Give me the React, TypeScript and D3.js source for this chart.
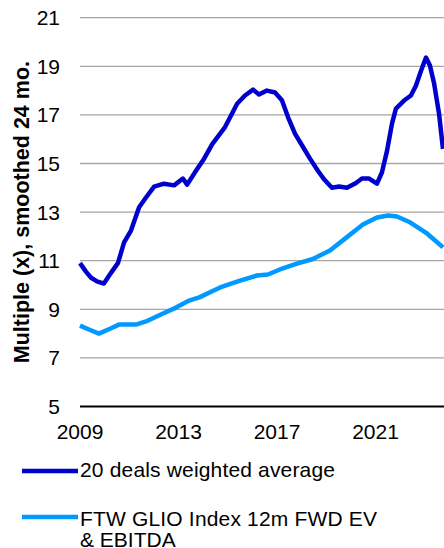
import { useRef, useEffect } from "react";
import * as d3 from "d3";

// 20 deals weighted average (decimal year, multiple)
const dealYears = [
  2009.0, 2009.24, 2009.45, 2009.69, 2009.97, 2010.26, 2010.54, 2010.79, 2011.07, 2011.4,
  2011.68, 2012.01, 2012.41, 2012.82, 2013.18, 2013.35, 2013.71, 2014.04, 2014.37, 2014.89,
  2015.17, 2015.38, 2015.7, 2016.03, 2016.27, 2016.59, 2016.92, 2017.2, 2017.45, 2017.73,
  2018.02, 2018.34, 2018.66, 2018.91, 2019.23, 2019.52, 2019.84, 2020.21, 2020.45, 2020.74,
  2021.06, 2021.26, 2021.47, 2021.67, 2021.83, 2022.16, 2022.44, 2022.64, 2022.85, 2023.05,
  2023.21, 2023.38, 2023.58, 2023.74,
];
const dealValues = [
  10.9, 10.55, 10.3, 10.15, 10.06, 10.5, 10.9, 11.75, 12.24, 13.2,
  13.6, 14.05, 14.17, 14.1, 14.38, 14.13, 14.7, 15.2, 15.8, 16.5,
  17.05, 17.46, 17.8, 18.04, 17.84, 18.0, 17.92, 17.6, 16.9, 16.23,
  15.74, 15.2, 14.7, 14.35, 14.0, 14.05, 14.0, 14.2, 14.38, 14.38,
  14.17, 14.63, 15.53, 16.64, 17.26, 17.59, 17.8, 18.2, 18.82, 19.36,
  19.03, 18.29, 17.05, 15.6,
];

// FTW GLIO Index 12m FWD EV / EBITDA
const indexYears = [
  2009.0, 2009.41, 2009.77, 2010.22, 2010.58, 2011.27, 2011.68, 2012.37, 2012.9, 2013.43,
  2013.87, 2014.28, 2014.69, 2015.5, 2016.19, 2016.63, 2017.12, 2017.81, 2018.46, 2019.15,
  2019.84, 2020.49, 2021.06, 2021.51, 2021.87, 2022.4, 2023.09, 2023.74,
];
const indexValues = [
  8.33, 8.15, 8.0, 8.2, 8.37, 8.37, 8.5, 8.83, 9.07, 9.36,
  9.5, 9.7, 9.9, 10.18, 10.39, 10.43, 10.64, 10.88, 11.07, 11.42,
  11.97, 12.49, 12.78, 12.86, 12.82, 12.58, 12.12, 11.55,
];

const yTicks = [5, 7, 9, 11, 13, 15, 17, 19, 21];
const xTicks = [2009, 2013, 2017, 2021];

const width = 444;
const height = 548;
const font = "'Liberation Sans', Arial, sans-serif";
const fontSize = 21;

const App = () => {
  const ref = useRef<SVGSVGElement | null>(null);

  useEffect(() => {
    if (!ref.current) return;
    const svg = d3.select(ref.current);
    svg.selectAll("*").remove();

    const x = d3.scaleLinear().domain([2009, 2013]).range([80, 178.5]);
    const y = d3.scaleLinear().domain([5, 21]).range([406.5, 17.7]);

    // gridlines
    svg
      .append("g")
      .selectAll("line")
      .data(yTicks.filter((t) => t !== 5))
      .join("line")
      .attr("x1", x(2009))
      .attr("x2", width)
      .attr("y1", (d) => y(d))
      .attr("y2", (d) => y(d))
      .attr("stroke", "#a6a6a6")
      .attr("stroke-width", 1.3);

    // baseline
    svg
      .append("line")
      .attr("x1", x(2009))
      .attr("x2", width)
      .attr("y1", y(5))
      .attr("y2", y(5))
      .attr("stroke", "#000")
      .attr("stroke-width", 2);

    // y tick labels
    svg
      .append("g")
      .selectAll("text")
      .data(yTicks)
      .join("text")
      .attr("x", 60)
      .attr("y", (d) => y(d))
      .attr("dy", "0.36em")
      .attr("text-anchor", "end")
      .attr("font-family", font)
      .attr("font-size", fontSize)
      .attr("fill", "#000")
      .text((d) => d);

    // x tick labels
    svg
      .append("g")
      .selectAll("text")
      .data(xTicks)
      .join("text")
      .attr("x", (d) => x(d))
      .attr("y", 439)
      .attr("text-anchor", "middle")
      .attr("font-family", font)
      .attr("font-size", fontSize)
      .attr("fill", "#000")
      .text((d) => d);

    // y axis title
    svg
      .append("text")
      .attr("transform", `translate(29,${(y(5) + y(21)) / 2}) rotate(-90)`)
      .attr("text-anchor", "middle")
      .attr("font-family", font)
      .attr("font-size", 21.5)
      .attr("font-weight", "bold")
      .attr("fill", "#000")
      .text("Multiple (x), smoothed 24 mo.");

    const line = d3
      .line<[number, number]>()
      .x((d) => x(d[0]))
      .y((d) => y(d[1]));

    const series = [
      { years: indexYears, values: indexValues, color: "#0099ff" },
      { years: dealYears, values: dealValues, color: "#0000cc" },
    ];

    svg
      .append("g")
      .selectAll("path")
      .data(series)
      .join("path")
      .attr("d", (s) => line(s.years.map((yr, i) => [yr, s.values[i]] as [number, number])))
      .attr("fill", "none")
      .attr("stroke", (s) => s.color)
      .attr("stroke-width", 4.5)
      .attr("stroke-linejoin", "round");

    // legend swatches
    const swatches = [
      { color: "#0000cc", cy: 471 },
      { color: "#0099ff", cy: 517 },
    ];
    svg
      .append("g")
      .selectAll("line")
      .data(swatches)
      .join("line")
      .attr("x1", 22)
      .attr("x2", 78)
      .attr("y1", (d) => d.cy)
      .attr("y2", (d) => d.cy)
      .attr("stroke", (d) => d.color)
      .attr("stroke-width", 4.5);

    // legend text, one element per line
    const labels = [
      { t: "20 deals weighted average", base: 477, len: 255 },
      { t: "FTW GLIO Index 12m FWD EV", base: 526, len: 297 },
      { t: "& EBITDA", base: 547, len: 0 },
    ];
    svg
      .append("g")
      .selectAll("text")
      .data(labels)
      .join("text")
      .attr("x", 80)
      .attr("y", (d) => d.base)
      .attr("font-family", font)
      .attr("font-size", fontSize)
      .attr("fill", "#000")
      .attr("textLength", (d) => (d.len ? d.len : null))
      .attr("lengthAdjust", "spacing")
      .text((d) => d.t);
  }, []);

  return (
    <svg
      ref={ref}
      width={width}
      height={height}
      style={{ position: "absolute", left: 0, top: 0, background: "#fff" }}
    />
  );
};

export default App;
